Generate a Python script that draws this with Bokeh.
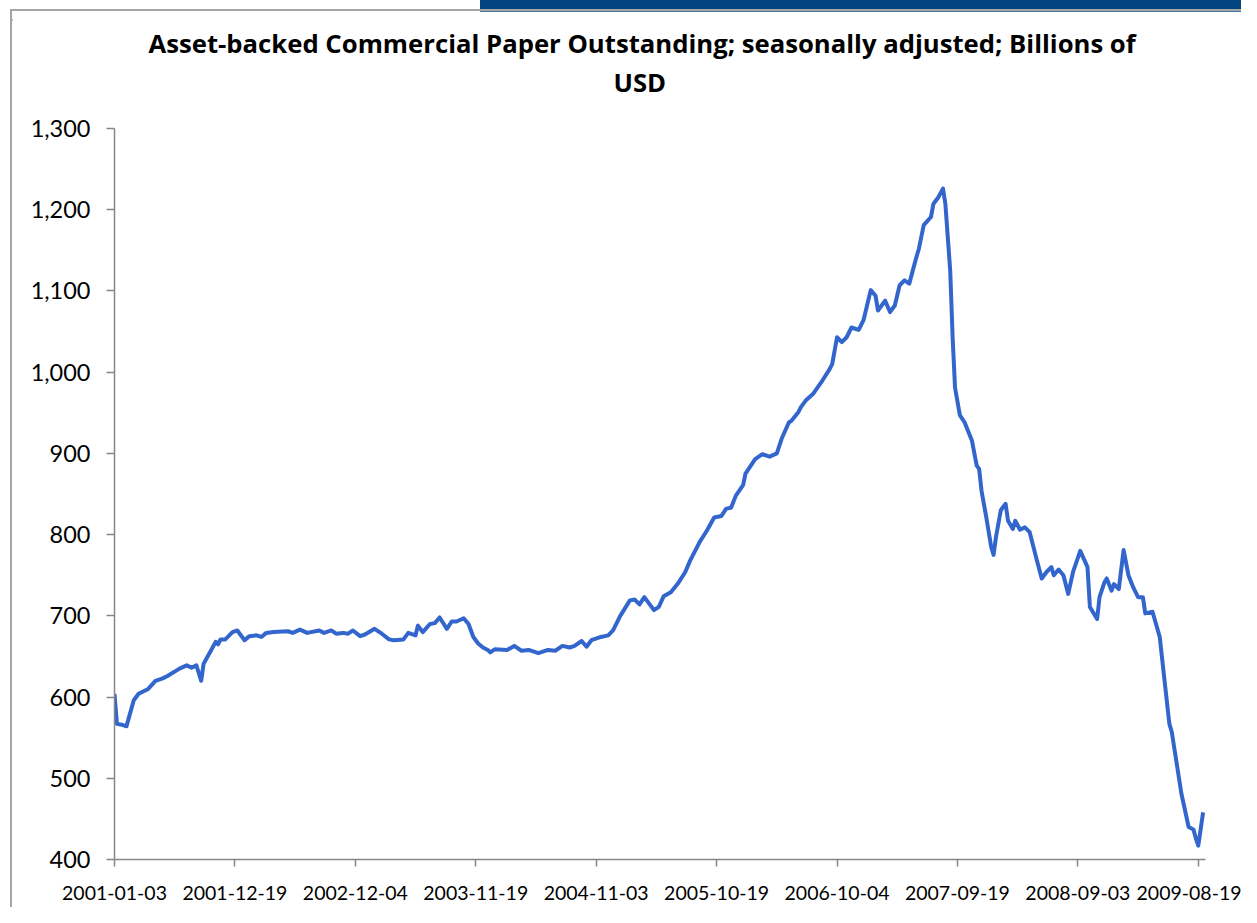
from bokeh.plotting import figure
from bokeh.models import Range1d, FixedTicker, NumeralTickFormatter, Title, Div, Spacer
from bokeh.layouts import row, column
from bokeh.embed import file_html
from bokeh.resources import INLINE

# ---------------- data ----------------
title_line1 = "Asset-backed Commercial Paper Outstanding; seasonally adjusted; Billions of"
title_line2 = "USD"

# weekly observation index (0 = 2001-01-03) and value in billions of USD
weeks = [0, 1, 3, 5, 6, 8, 10, 14, 17, 20, 22, 27, 30, 32, 34, 36, 37, 40, 42, 43,
         44, 46, 49, 51, 54, 56, 59, 61, 63, 66, 72, 74, 77, 80, 85, 87, 90, 92, 95, 97,
         99, 102, 104, 108, 111, 114, 116, 120, 122, 125, 126, 128, 131, 133, 135, 138, 140, 142, 145, 147,
         149, 151, 153, 155, 156, 158, 163, 166, 169, 172, 176, 180, 183, 186, 189, 191, 194, 196, 198, 202,
         205, 207, 210, 214, 216, 218, 220, 224, 226, 228, 231, 234, 237, 239, 243, 246, 249, 252, 254, 256,
         258, 261, 262, 266, 269, 272, 275, 277, 280, 281, 284, 285, 287, 290, 294, 297, 298, 300, 302, 304,
         306, 309, 311, 314, 316, 317, 320, 322, 324, 326, 328, 330, 333, 334, 336, 339, 340, 342, 344, 345,
         347, 348, 349, 351, 353, 356, 358, 359, 360, 362, 364, 365, 366, 368, 370, 371, 373, 374, 376, 378,
         380, 383, 385, 387, 389, 390, 392, 394, 396, 398, 401, 404, 405, 408, 409, 411, 412, 414, 415, 417,
         419, 421, 423, 425, 427, 428, 431, 434, 436, 438, 439, 443, 446, 448, 449, 450, 452]

values = [604, 567, 566, 564, 575, 596, 604, 610, 620, 623, 626, 635, 639, 636, 639, 620, 641, 657, 668, 665,
          671, 671, 680, 682, 670, 675, 676, 674, 679, 680, 681, 679, 683, 679, 682, 679, 682, 678, 679, 678,
          682, 675, 677, 684, 678, 671, 670, 671, 679, 676, 688, 680, 690, 691, 698, 684, 693, 693, 697, 690,
          674, 666, 661, 658, 655, 659, 658, 663, 657, 658, 654, 658, 657, 663, 661, 663, 669, 662, 670, 674,
          676, 682, 700, 719, 720, 714, 723, 707, 711, 724, 729, 740, 754, 768, 791, 805, 821, 823, 832, 833,
          848, 861, 875, 893, 899, 896, 900, 918, 938, 940, 951, 957, 965, 973, 990, 1004, 1010, 1043, 1037, 1043,
          1055, 1052, 1064, 1101, 1094, 1076, 1088, 1074, 1082, 1107, 1113, 1109, 1142, 1152, 1181, 1191, 1207, 1215, 1226, 1207,
          1125, 1043, 981, 947, 938, 916, 885, 881, 854, 821, 785, 775, 797, 830, 838, 817, 807, 817, 806, 809,
          803, 768, 746, 754, 760, 750, 757, 750, 727, 754, 780, 760, 711, 696, 723, 741, 746, 731, 739, 733,
          781, 750, 735, 723, 723, 703, 705, 674, 620, 567, 557, 481, 440, 437, 426, 417, 458]

tick_weeks = [0, 50, 100, 150, 200, 250, 300, 350, 400, 450]
tick_labels = ["2001-01-03", "2001-12-19", "2002-12-04", "2003-11-19", "2004-11-03",
               "2005-10-19", "2006-10-04", "2007-09-19", "2008-09-03", "2009-08-19"]
y_ticks = [400, 500, 600, 700, 800, 900, 1000, 1100, 1200, 1300]

# ---------------- layout geometry ----------------
TICK_FONT = "Lato"
TITLE_FONT = "Open Sans"
TOTAL_W, TOTAL_H = 1241, 907
BAR_H, GAP_H, RULE = 7, 2, 2
LEFT_PAD = 10
FIG_X = LEFT_PAD + RULE                 # figure's left edge on the page
FIG_Y = BAR_H + GAP_H + RULE            # figure's top edge on the page
FW, FH = TOTAL_W - FIG_X, TOTAL_H - FIG_Y
FRAME_L, FRAME_R, FRAME_T, FRAME_B = 114, 1205, 128, 859

p = figure(width=FW, height=FH, output_backend="svg", toolbar_location=None,
           x_range=Range1d(0, 453), y_range=Range1d(400, 1300),
           min_border_left=FRAME_L - FIG_X, min_border_right=FW - (FRAME_R - FIG_X),
           min_border_top=FRAME_T - FIG_Y, min_border_bottom=FH - (FRAME_B - FIG_Y),
           margin=0)

p.border_fill_color = "#ffffff"
p.background_fill_color = "#ffffff"
p.outline_line_color = None
p.xgrid.grid_line_color = None
p.ygrid.grid_line_color = None

p.line(weeks, values, line_color="#3366cc", line_width=4, line_join="round")

# title: two bold lines; an invisible spacer title keeps them clear of the plot area
title_style = dict(text_font=TITLE_FONT, text_font_style="bold",
                   text_font_size="25.7px", text_color="#000000", align="left")
p.title.text = title_line1
p.title.align = "left"
p.title.offset = 148 - FRAME_L
p.title.standoff = 1
p.title.text_font = TITLE_FONT
p.title.text_font_style = "bold"
p.title.text_font_size = "25.7px"
p.title.text_color = "#000000"
p.add_layout(Title(text=" ", text_font_size="2px", text_color="#ffffff", standoff=24), "above")
p.add_layout(Title(text=title_line2, offset=613 - FRAME_L, standoff=2, **title_style), "above")

axis_color = "#868686"
for ax in (p.xaxis[0], p.yaxis[0]):
    ax.axis_line_color = axis_color
    ax.axis_line_width = 1.5
    ax.major_tick_line_color = axis_color
    ax.major_tick_line_width = 1.5
    ax.minor_tick_line_color = None
    ax.major_tick_in = 0
    ax.major_label_text_font = TICK_FONT
    ax.major_label_text_color = "#000000"

p.xaxis.ticker = FixedTicker(ticks=tick_weeks)
p.xaxis.major_label_overrides = {w: lab for w, lab in zip(tick_weeks, tick_labels)}
p.xaxis.major_tick_out = 7
p.xaxis.major_label_standoff = 19
p.xaxis.major_label_text_font_size = "19.5px"

p.yaxis.ticker = FixedTicker(ticks=y_ticks)
p.yaxis.formatter = NumeralTickFormatter(format="0,0")
p.yaxis.major_tick_out = 8
p.yaxis.major_label_standoff = 16
p.yaxis.major_label_text_font_size = "23.5px"

# slide decoration: blue header bar and gray frame rules
def block(w, h, color=None):
    if color is None:
        return Spacer(width=w, height=h, margin=0)
    html = f'<div style="width:{w}px;height:{h}px;background-color:{color};"></div>'
    return Div(text=html, width=w, height=h, margin=0,
               styles={"background-color": color})

top_bar = row(block(480, BAR_H), block(TOTAL_W - 480, BAR_H, "#03467f"), spacing=0, margin=0)
gap = block(TOTAL_W, GAP_H)
top_rule = row(block(LEFT_PAD, RULE), block(TOTAL_W - LEFT_PAD, RULE, "#a6a6a6"), spacing=0, margin=0)
body = row(block(LEFT_PAD, FH), block(RULE, FH, "#a6a6a6"), p, spacing=0, margin=0)
page = column(top_bar, gap, top_rule, body, spacing=0, margin=0)

open("out.html", "w").write(file_html(page, INLINE))
